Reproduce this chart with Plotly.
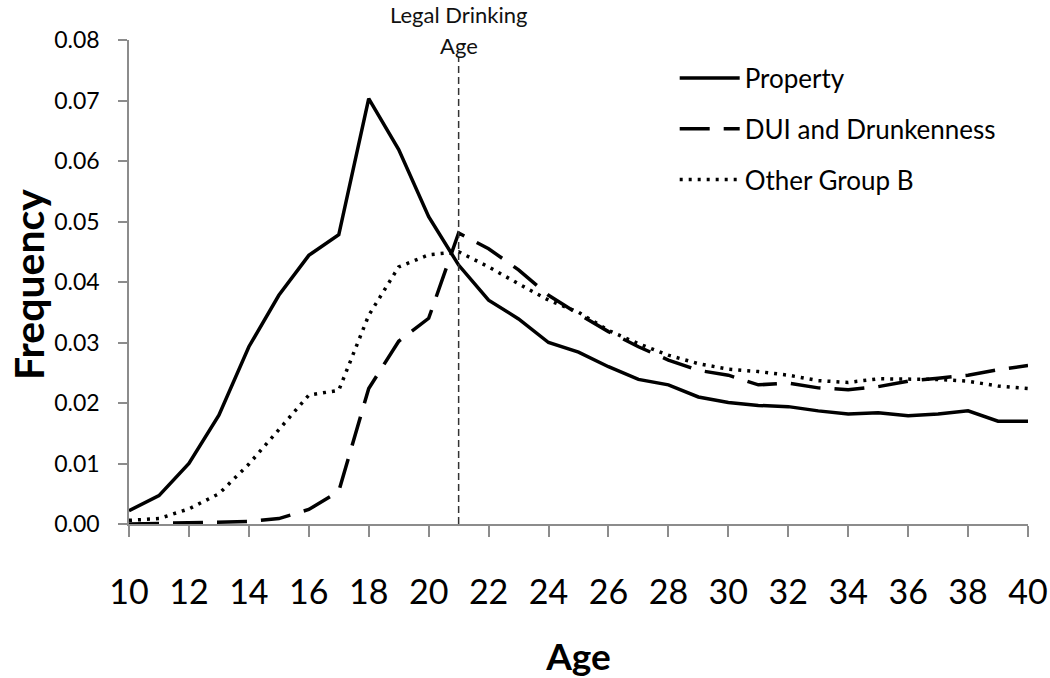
import plotly.graph_objects as go

ages = list(range(10, 41))

property_freq = [0.0022, 0.0047, 0.0100, 0.0180, 0.0293, 0.0378, 0.0444, 0.0478, 0.0703, 0.0619,
                 0.0508, 0.0428, 0.0370, 0.0339, 0.0300, 0.0284, 0.0260, 0.0239, 0.0230, 0.0210,
                 0.0201, 0.0196, 0.0194, 0.0187, 0.0182, 0.0184, 0.0179, 0.0182, 0.0187, 0.0170, 0.0170]

dui_freq = [0.0000, 0.0001, 0.0002, 0.0003, 0.0004, 0.0009, 0.0024, 0.0054, 0.0224, 0.0302,
            0.0340, 0.0481, 0.0455, 0.0420, 0.0378, 0.0347, 0.0318, 0.0293, 0.0271, 0.0254,
            0.0246, 0.0230, 0.0233, 0.0225, 0.0222, 0.0227, 0.0236, 0.0241, 0.0246, 0.0255, 0.0262]

other_b_freq = [0.0006, 0.0009, 0.0025, 0.0050, 0.0099, 0.0157, 0.0213, 0.0221, 0.0345, 0.0425,
                0.0445, 0.0450, 0.0425, 0.0397, 0.0370, 0.0350, 0.0320, 0.0298, 0.0279, 0.0265,
                0.0256, 0.0252, 0.0246, 0.0237, 0.0234, 0.0240, 0.0240, 0.0239, 0.0236, 0.0228, 0.0224]

legal_age = 21
legal_line_top = 0.0772
x_ticks = list(range(10, 41, 2))
y_ticks = [0.00, 0.01, 0.02, 0.03, 0.04, 0.05, 0.06, 0.07, 0.08]

FONT = "Lato, 'Open Sans', sans-serif"

fig = go.Figure()
series = [
    ("Property", property_freq, "solid"),
    ("DUI and Drunkenness", dui_freq, "30px,14px"),
    ("Other Group B", other_b_freq, "3px,6px"),
]
for name, vals, dash in series:
    fig.add_trace(go.Scatter(
        x=ages, y=vals, mode="lines", name=name, legendgroup=name,
        line=dict(color="black", width=3.5, dash=dash),
    ))

fig.add_shape(type="line", x0=legal_age, x1=legal_age, y0=0, y1=legal_line_top,
              xref="x", yref="y", line=dict(color="#333333", width=1.5, dash="7px,4px"))
fig.add_annotation(x=legal_age, y=1.0, xref="x", yref="paper", yshift=26,
                   text="Legal Drinking", showarrow=False, borderpad=0,
                   font=dict(family=FONT, size=22, color="#111"),
                   xanchor="center", yanchor="middle")
fig.add_annotation(x=legal_age, y=1.0, xref="x", yref="paper", yshift=-5,
                   text="Age", showarrow=False, borderpad=0,
                   font=dict(family=FONT, size=22, color="#111"),
                   xanchor="center", yanchor="middle")
fig.add_annotation(x=0, y=0.5, xref="paper", yref="paper", xshift=-101, yshift=-3,
                   text="<b>Frequency</b>", textangle=-90, showarrow=False, borderpad=0,
                   font=dict(family=FONT, size=41, color="black"),
                   xanchor="center", yanchor="middle")

fig.update_layout(
    width=1050, height=678,
    margin=dict(l=129, r=22, t=40, b=154),
    paper_bgcolor="white", plot_bgcolor="white",
    font=dict(family=FONT, color="black"),
    showlegend=True,
    legend=dict(x=0.607, y=0.97, xanchor="left", yanchor="top",
                font=dict(family=FONT, size=26), itemwidth=60,
                tracegroupgap=14, bgcolor="rgba(0,0,0,0)"),
)

fig.update_xaxes(
    range=[10, 40], tickvals=x_ticks, ticktext=[str(t) for t in x_ticks],
    showline=True, linecolor="#8c8c8c", linewidth=1.5,
    ticks="outside", ticklen=11, tickcolor="#8c8c8c", tickwidth=1.5,
    showgrid=False, zeroline=False, automargin=False,
    tickfont=dict(family=FONT, size=34), ticklabelstandoff=26,
    title=dict(text="<b>Age</b>", font=dict(family=FONT, size=37), standoff=36),
)
fig.update_yaxes(
    range=[0, 0.08], tickvals=y_ticks, tickformat=".2f",
    showline=True, linecolor="#8c8c8c", linewidth=1.5,
    ticks="outside", ticklen=9, tickcolor="#8c8c8c", tickwidth=1.5,
    showgrid=False, zeroline=False, automargin=False,
    tickfont=dict(family=FONT, size=23), ticklabelstandoff=14,
)

fig.write_html("out.html", config={"displayModeBar": False},
               post_script="document.body.style.margin='0';document.body.style.overflow='hidden';")
